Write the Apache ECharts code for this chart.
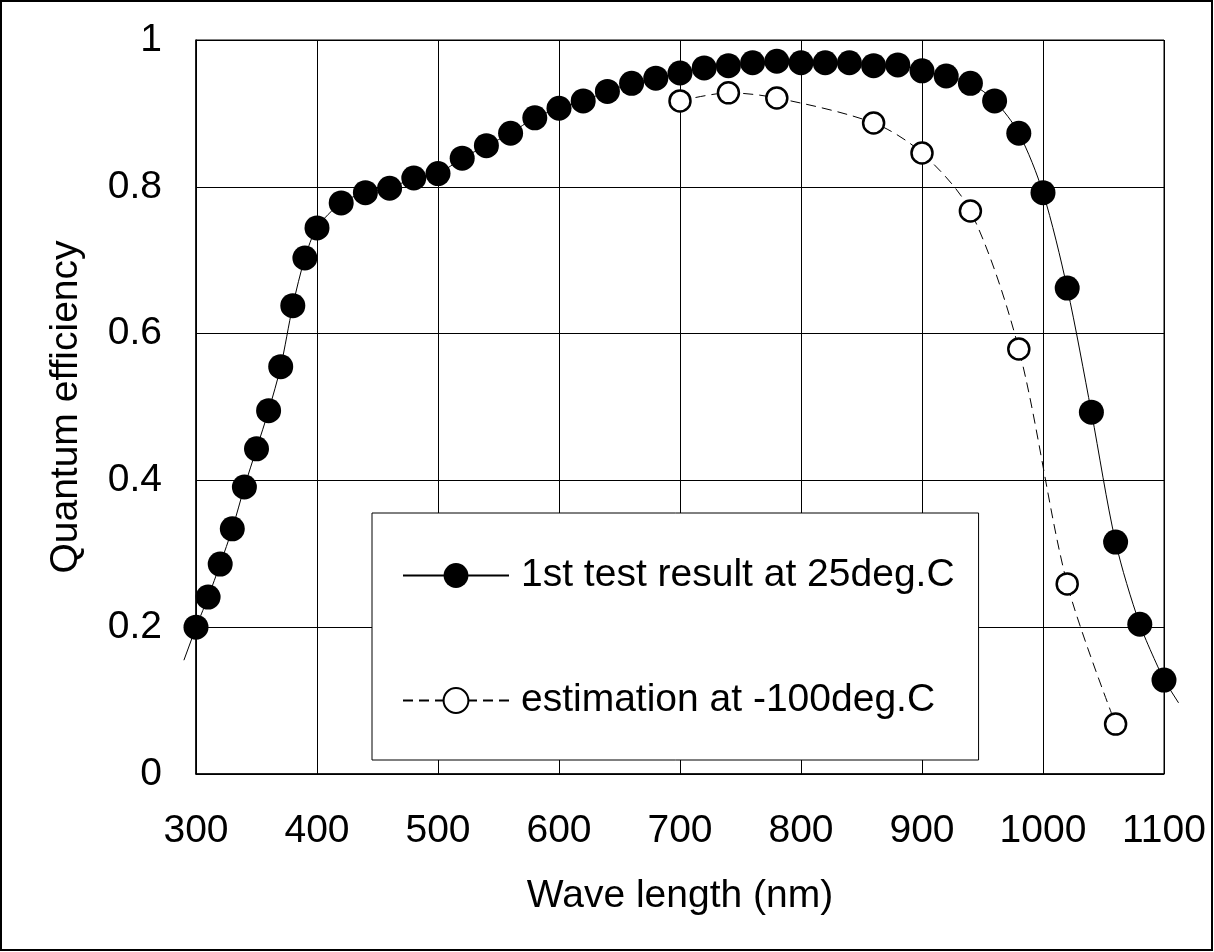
<!DOCTYPE html>
<html>
<head>
<meta charset="utf-8">
<script src="https://cdn.jsdelivr.net/npm/echarts@6/dist/echarts.min.js"></script>
<style>
html,body{margin:0;padding:0;background:#fff;}
#chart{width:1214px;height:952px;}
</style>
</head>
<body>
<div id="chart"></div>
<script>
// Measured series at 25 deg.C
const wavelength25 = [300,310,320,330,340,350,360,370,380,390,400,
  420,440,460,480,500,520,540,560,580,600,620,640,660,680,700,
  720,740,760,780,800,820,840,860,880,900,920,940,960,980,1000,
  1020,1040,1060,1080,1100];
const qe25 = [0.200,0.241,0.286,0.334,0.391,0.443,0.495,0.555,0.638,0.703,0.744,
  0.778,0.792,0.798,0.812,0.818,0.839,0.856,0.873,0.894,0.907,0.917,0.930,0.941,0.948,0.955,
  0.962,0.965,0.969,0.971,0.969,0.969,0.969,0.965,0.966,0.958,0.951,0.941,0.917,0.873,0.792,
  0.662,0.493,0.316,0.204,0.128];
// Ends of the solid curve beyond the first/last marker
const tailWavelength = [290, 1112];
const tailQe = [0.155, 0.097];
// Estimation at -100 deg.C
const wavelengthCold = [700,740,780,860,900,940,980,1020,1060];
const qeCold = [0.917,0.928,0.921,0.887,0.846,0.767,0.579,0.259,0.068];
// Axis ticks
const xTicks = [300,400,500,600,700,800,900,1000,1100];
const yTicks = [0,0.2,0.4,0.6,0.8,1];

const name25 = '1st test result at 25deg.C';
const nameCold = 'estimation at -100deg.C';

const FONT = 'Liberation Sans, Arial, sans-serif';
const FS = 39;

const solidData = wavelength25.map((w,i)=>[w, qe25[i]]);
const coldData = wavelengthCold.map((w,i)=>[w, qeCold[i]]);
const n = wavelength25.length;
// each row: x0, y0, x1, y1
const tailSegments = [
  [tailWavelength[0], tailQe[0], wavelength25[0], qe25[0]],
  [wavelength25[n-1], qe25[n-1], tailWavelength[1], tailQe[1]]
];

const chart = echarts.init(document.getElementById('chart'), null, {renderer:'canvas'});
chart.setOption({
  animation:false,
  backgroundColor:'#fff',
  textStyle:{fontFamily:FONT},
  grid:{left:196, top:40, right:50, bottom:178, show:true, borderColor:'#000', borderWidth:1, backgroundColor:'transparent'},
  xAxis:{
    type:'value', min:xTicks[0], max:xTicks[xTicks.length-1], interval:100,
    name:'Wave length (nm)', nameLocation:'middle', nameGap:103,
    nameTextStyle:{fontSize:FS, color:'#000', fontFamily:FONT},
    axisLine:{show:true, lineStyle:{color:'#000', width:1.5}},
    axisTick:{show:true, inside:true, length:12, lineStyle:{color:'#000'}},
    axisLabel:{fontSize:FS, color:'#000', margin:38, fontFamily:FONT,
      formatter:v=>String(v)},
    splitLine:{show:true, lineStyle:{color:'#000', width:1}}
  },
  yAxis:{
    type:'value', min:yTicks[0], max:yTicks[yTicks.length-1], interval:0.2,
    name:'Quantum efficiency', nameLocation:'middle', nameGap:110,
    nameTextStyle:{fontSize:FS, color:'#000', fontFamily:FONT},
    axisLine:{show:true, lineStyle:{color:'#000', width:1.5}},
    axisTick:{show:true, inside:true, length:12, lineStyle:{color:'#000'}},
    axisLabel:{fontSize:FS, color:'#000', margin:34, fontFamily:FONT,
      formatter:v=>String(Math.round(v*10)/10)},
    splitLine:{show:true, lineStyle:{color:'#000', width:1}}
  },
  legend:{
    data:[name25, nameCold],
    orient:'vertical', left:372, top:513,
    padding:[43,24,40,30],
    itemWidth:106, itemHeight:31, itemGap:86,
    borderColor:'#000', borderWidth:1, backgroundColor:'#fff',
    textStyle:{fontSize:FS, color:'#000', fontFamily:FONT, padding:[0,0,0,7]}
  },
  series:[
    {
      name:name25, type:'line', data:solidData, smooth:0.3,
      symbol:'circle', symbolSize:25,
      itemStyle:{color:'#000', borderWidth:0},
      lineStyle:{color:'#000', width:1}, z:3
    },
    {
      name:'tails', type:'custom', data:tailSegments, clip:false, silent:true, z:3,
      encode:{x:[0,2], y:[1,3]},
      renderItem:function(params, api){
        const p0 = api.coord([api.value(0), api.value(1)]);
        const p1 = api.coord([api.value(2), api.value(3)]);
        return {type:'line', shape:{x1:p0[0], y1:p0[1], x2:p1[0], y2:p1[1]},
          style:{stroke:'#000', lineWidth:1}};
      }
    },
    {
      name:nameCold, type:'line', data:coldData, smooth:0.3,
      symbol:'circle', symbolSize:21,
      itemStyle:{color:'#fff', borderColor:'#000', borderWidth:2.5},
      lineStyle:{color:'#000', width:1, type:[10,6]}, z:2
    }
  ],
  graphic:[{
    type:'rect', silent:true, z:100,
    shape:{x:1, y:1, width:1211, height:949},
    style:{fill:'none', stroke:'#000', lineWidth:2}
  }]
});
</script>
</body>
</html>
